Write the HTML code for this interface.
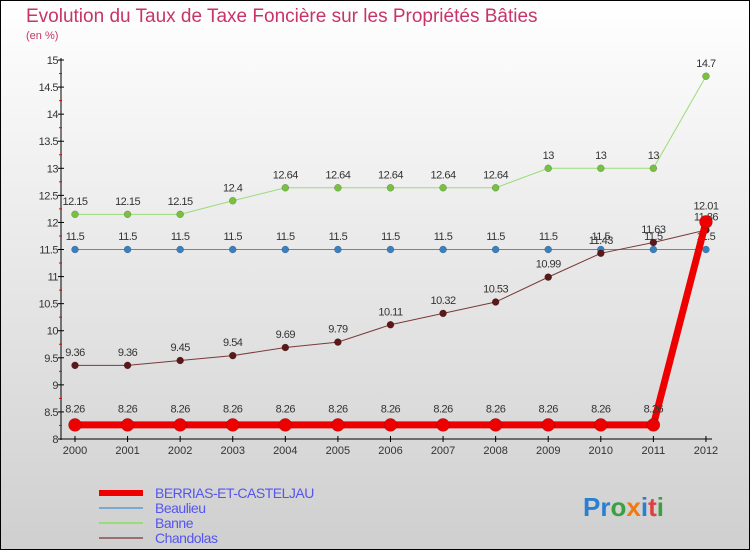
<!DOCTYPE html>
<html><head><meta charset="utf-8"><style>
body{margin:0;width:750px;height:550px;overflow:hidden;font-family:"Liberation Sans",sans-serif}
svg text{font-family:"Liberation Sans",sans-serif}
</style></head><body>
<svg id="c" width="750" height="550" xmlns="http://www.w3.org/2000/svg">
<defs><linearGradient id="bg" x1="0" y1="0" x2="0" y2="1"><stop offset="0" stop-color="#ffffff"/><stop offset="1" stop-color="#cfcfcf"/></linearGradient></defs>
<rect x="0.5" y="0.5" width="749" height="549" fill="url(#bg)" stroke="#000"/>
<text x="26" y="22" font-size="19" fill="#c8336a">Evolution du Taux de Taxe Foncière sur les Propriétés Bâties</text>
<text x="26" y="39" font-size="11" fill="#c8336a">(en %)</text>
<g id="axes"></g><g id="series"></g><g id="legend"></g>
<text x="583" y="516" font-size="26" font-weight="bold"><tspan fill="#2a7fd0">Pr</tspan><tspan fill="#3aa040">o</tspan><tspan fill="#f07a10">x</tspan><tspan fill="#2a7fd0">i</tspan><tspan fill="#e04040">t</tspan><tspan fill="#3aa040">i</tspan></text>
</svg>
<script>
const years=[2000,2001,2002,2003,2004,2005,2006,2007,2008,2009,2010,2011,2012];
const yTicks=[8,8.5,9,9.5,10,10.5,11,11.5,12,12.5,13,13.5,14,14.5,15];
const berrias=[8.26,8.26,8.26,8.26,8.26,8.26,8.26,8.26,8.26,8.26,8.26,8.26,12.01];
const beaulieu=[11.5,11.5,11.5,11.5,11.5,11.5,11.5,11.5,11.5,11.5,11.5,11.5,11.5];
const banne=[12.15,12.15,12.15,12.4,12.64,12.64,12.64,12.64,12.64,13,13,13,14.7];
const chandolas=[9.36,9.36,9.45,9.54,9.69,9.79,10.11,10.32,10.53,10.99,11.43,11.63,11.86];
const labels={berrias:["8.26","8.26","8.26","8.26","8.26","8.26","8.26","8.26","8.26","8.26","8.26","8.26","12.01"]};
const NS="http://www.w3.org/2000/svg";
const X=i=>75+i*52.58, Y=v=>439-(v-8)*54.14;
function mk(p,t,a){const e=document.createElementNS(NS,t);for(const k in a)e.setAttribute(k,a[k]);p.appendChild(e);return e;}
const ax=document.getElementById('axes');
let l=mk(ax,'line',{x1:61,y1:58,x2:61,y2:440,stroke:'#000'});


l=mk(ax,'line',{x1:61,y1:439,x2:712,y2:439,stroke:'#000'});


yTicks.forEach(v=>{const y=Y(v);
 mk(ax,'line',{x1:58,y1:y,x2:64,y2:y,stroke:'#000'});
 if(v<15) mk(ax,'line',{x1:59,y1:Y(v+0.25),x2:62,y2:Y(v+0.25),stroke:'#e00'});
 const t=mk(ax,'text',{x:58,y:y+4,'font-size':11,'text-anchor':'end',fill:'#333','letter-spacing':'-0.5'});t.textContent=String(v);
 
 });
years.forEach((yr,i)=>{mk(ax,'line',{x1:X(i),y1:436,x2:X(i),y2:442,stroke:'#000'});
 const t=mk(ax,'text',{x:X(i),y:454,'font-size':11,'text-anchor':'middle',fill:'#333'});t.textContent=yr;
 
 });
const sg=document.getElementById('series');
function draw(name,vals,color,dot,w,r,lab){
 const g=mk(sg,'g',{});
 
 
 mk(g,'polyline',{points:vals.map((v,i)=>X(i)+','+Y(v)).join(' '),fill:'none',stroke:color,'stroke-width':w});
 vals.forEach((v,i)=>{const c=mk(g,'circle',{cx:X(i),cy:Y(v),r:r,fill:dot,stroke:'rgba(0,0,0,0.3)','stroke-width':0.5});
  
  
  const t=mk(g,'text',{x:X(i),y:Y(v)-(r+6),'font-size':11,'text-anchor':'middle',fill:'#333','letter-spacing':'-0.5'});
  t.textContent=lab?lab[i]:String(v);
  
  });
}
draw('banne',banne,'#99dd77','#77c040',1,3.5);
draw('beaulieu',beaulieu,'#4a90d0','#3a80c0',1,3.5);
draw('chandolas',chandolas,'#7a3a3a','#5a1818',1,3.5);
draw('berrias',berrias,'#ee0000','#ee0000',7,6.5,labels.berrias);
const lg=document.getElementById('legend');
const items=[['BERRIAS-ET-CASTELJAU','#ee0000',6],['Beaulieu','#7aaad0',2],['Banne','#99dd77',2],['Chandolas','#997070',2]];
items.forEach((it,i)=>{const y=493+i*15;
 const g=mk(lg,'g',{});
 
 
 mk(g,'line',{x1:99,y1:y,x2:143,y2:y,stroke:it[1],'stroke-width':it[2]});
 const t=mk(g,'text',{x:155,y:y+5,'font-size':14,fill:'#5555ee','letter-spacing':'-0.5'});t.textContent=it[0];});
</script>
</body></html>
